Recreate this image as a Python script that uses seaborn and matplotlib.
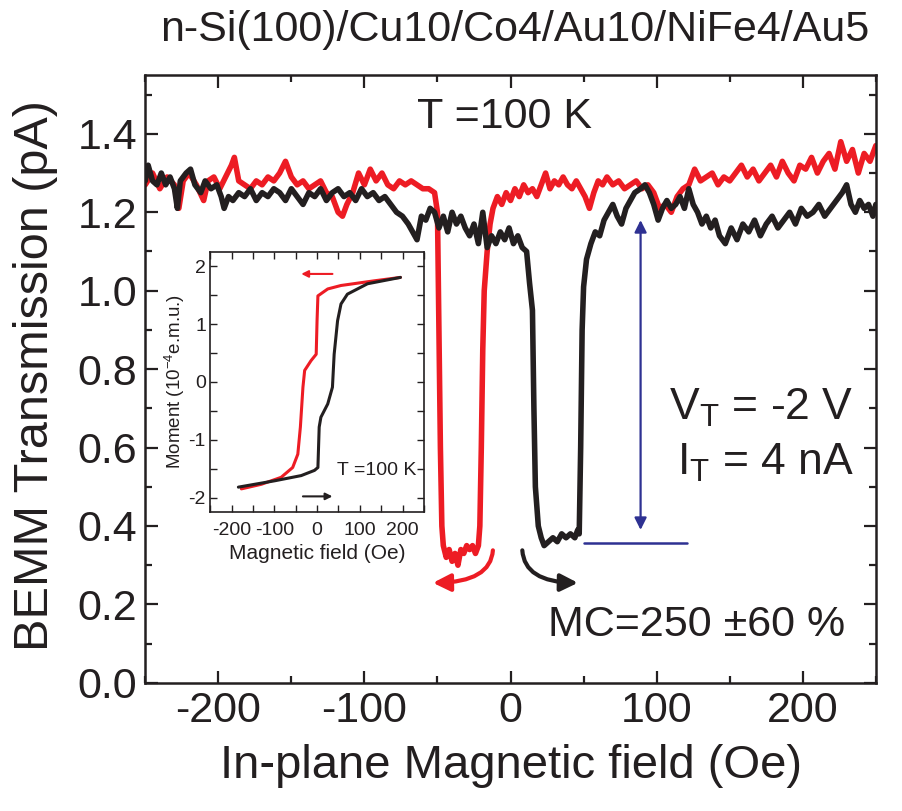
import matplotlib
matplotlib.use("Agg")
import matplotlib.pyplot as plt
import numpy as np
import pandas as pd
import seaborn as sns
from matplotlib.patches import FancyArrowPatch

sns.set_style("ticks")
plt.rcParams['font.family'] = ['Liberation Sans Narrow', 'Liberation Sans', 'DejaVu Sans']
plt.rcParams['mathtext.fontset'] = 'custom'
plt.rcParams['mathtext.rm'] = 'Liberation Sans'

RED = "#ed1c24"
BLACK = "#231f20"
BLUE = "#2e3192"

# ---- main data: BEMM transmission vs in-plane field ----
red_field = [-250, -245, -240, -235, -230, -227, -224, -220, -215, -210, -207, -203, -199, -195,
             -191, -189, -186, -182, -178, -174, -170, -166, -162, -158, -154, -150, -146, -142,
             -138, -134, -130, -126, -122, -118, -115, -112, -108, -104, -100, -96, -92, -88,
             -84, -80, -76, -72, -68, -64, -60, -56, -52, -50, -49, -48, -47, -46, -44, -42,
             -40, -38, -36, -34, -32, -30, -28, -26, -24, -22, -21, -20, -19, -18, -16, -14,
             -12, -9, -6, -3, 0, 3, 6, 9, 12, 15, 18, 21, 24, 27, 30, 33, 36, 39, 42, 45, 48,
             51, 54, 57, 60, 63, 66, 70, 74, 78, 82, 86, 90, 94, 98, 102, 106, 110, 114, 118,
             122, 126, 130, 134, 138, 142, 146, 150, 154, 158, 162, 166, 170, 174, 178, 182,
             186, 190, 194, 198, 202, 206, 210, 214, 218, 222, 226, 230, 234, 238, 242, 246, 250]
red_current = [1.27, 1.30, 1.26, 1.29, 1.27, 1.21, 1.28, 1.30, 1.27, 1.23, 1.28, 1.29, 1.26, 1.29,
               1.32, 1.34, 1.28, 1.27, 1.26, 1.28, 1.27, 1.29, 1.28, 1.30, 1.33, 1.29, 1.27, 1.28,
               1.26, 1.27, 1.28, 1.25, 1.24, 1.20, 1.19, 1.22, 1.25, 1.30, 1.27, 1.31, 1.28, 1.30,
               1.27, 1.26, 1.28, 1.27, 1.28, 1.27, 1.26, 1.26, 1.25, 1.20, 0.90, 0.60, 0.40, 0.35,
               0.32, 0.34, 0.31, 0.33, 0.30, 0.34, 0.33, 0.35, 0.34, 0.35, 0.33, 0.35, 0.40, 0.60,
               0.85, 1.00, 1.10, 1.17, 1.21, 1.24, 1.22, 1.25, 1.23, 1.26, 1.24, 1.27, 1.25, 1.26,
               1.24, 1.27, 1.30, 1.26, 1.28, 1.27, 1.29, 1.27, 1.26, 1.28, 1.26, 1.24, 1.21, 1.25,
               1.28, 1.27, 1.29, 1.27, 1.28, 1.26, 1.27, 1.28, 1.26, 1.27, 1.25, 1.21, 1.22, 1.20,
               1.24, 1.26, 1.27, 1.31, 1.28, 1.29, 1.30, 1.27, 1.29, 1.28, 1.30, 1.32, 1.29, 1.31,
               1.28, 1.30, 1.32, 1.29, 1.33, 1.30, 1.28, 1.32, 1.31, 1.34, 1.30, 1.33, 1.35, 1.31,
               1.38, 1.33, 1.36, 1.30, 1.35, 1.33, 1.37]

black_field = [-250, -248, -245, -242, -239, -236, -233, -230, -228, -226, -222, -219, -216, -212,
               -209, -205, -201, -198, -196, -193, -190, -186, -182, -178, -174, -170, -166, -162,
               -158, -154, -150, -146, -142, -138, -134, -130, -126, -122, -118, -114, -110, -106,
               -102, -98, -94, -90, -86, -82, -78, -74, -70, -67, -64, -61, -58, -55, -52, -49,
               -46, -43, -40, -37, -34, -31, -28, -25, -22, -19, -16, -13, -10, -7, -4, -1, 2, 5,
               8, 11, 13, 15, 16, 17, 19, 21, 23, 26, 29, 32, 35, 38, 41, 44, 46, 47, 48, 49, 50,
               52, 55, 58, 61, 64, 67, 70, 73, 76, 79, 82, 85, 89, 92, 95, 98, 101, 104, 107, 110,
               113, 116, 119, 122, 125, 128, 131, 134, 137, 140, 143, 147, 151, 155, 159, 163,
               167, 171, 175, 179, 183, 187, 191, 195, 199, 203, 207, 211, 215, 219, 223, 227,
               230, 233, 236, 239, 242, 245, 248, 250]
black_current = [1.28, 1.32, 1.28, 1.27, 1.30, 1.27, 1.29, 1.26, 1.21, 1.28, 1.30, 1.31, 1.27, 1.25,
                 1.28, 1.26, 1.27, 1.24, 1.21, 1.24, 1.23, 1.25, 1.24, 1.26, 1.23, 1.25, 1.24, 1.26,
                 1.25, 1.23, 1.26, 1.24, 1.22, 1.25, 1.24, 1.26, 1.23, 1.25, 1.26, 1.24, 1.25, 1.23,
                 1.26, 1.24, 1.25, 1.23, 1.24, 1.22, 1.20, 1.19, 1.17, 1.15, 1.13, 1.19, 1.18, 1.21,
                 1.20, 1.16, 1.19, 1.15, 1.20, 1.17, 1.19, 1.16, 1.14, 1.17, 1.12, 1.20, 1.11, 1.14,
                 1.12, 1.15, 1.13, 1.16, 1.12, 1.14, 1.11, 1.10, 1.02, 0.95, 0.70, 0.50, 0.40, 0.37,
                 0.35, 0.36, 0.37, 0.36, 0.38, 0.37, 0.38, 0.37, 0.39, 0.38, 0.60, 0.90, 1.01, 1.08,
                 1.12, 1.15, 1.14, 1.18, 1.20, 1.22, 1.19, 1.17, 1.21, 1.23, 1.25, 1.26, 1.27, 1.25,
                 1.22, 1.18, 1.21, 1.23, 1.21, 1.22, 1.24, 1.21, 1.26, 1.22, 1.20, 1.17, 1.19, 1.16,
                 1.18, 1.14, 1.12, 1.16, 1.13, 1.17, 1.15, 1.18, 1.14, 1.17, 1.19, 1.16, 1.18, 1.20,
                 1.17, 1.21, 1.19, 1.20, 1.22, 1.19, 1.21, 1.23, 1.25, 1.27, 1.22, 1.20, 1.23, 1.21,
                 1.22, 1.19, 1.22]

# ---- inset data: hysteresis loop ----
loop_down_field = [195, 133, 56, 25, 2, 0, -2, -14, -29, -33, -39, -45, -57, -84, -130, -177]
loop_down_moment = [1.81, 1.75, 1.67, 1.61, 1.49, 1.06, 0.48, 0.37, 0.20, -0.09, -0.78, -1.25,
                    -1.48, -1.65, -1.77, -1.85]
loop_up_field = [-184, -99, -37, -6, 2, 5, 9, 25, 36, 40, 48, 56, 71, 118, 195]
loop_up_moment = [-1.82, -1.71, -1.62, -1.53, -1.48, -0.78, -0.61, -0.38, -0.09, 0.48, 1.06,
                  1.35, 1.52, 1.70, 1.81]

main_xticks = [-200, -100, 0, 100, 200]
main_yticks = [0.0, 0.2, 0.4, 0.6, 0.8, 1.0, 1.2, 1.4]
inset_xticks = [-200, -100, 0, 100, 200]
inset_yticks = [-2, -1, 0, 1, 2]

df_red = pd.DataFrame({"H": red_field, "I": red_current})
df_black = pd.DataFrame({"H": black_field, "I": black_current})
df_down = pd.DataFrame({"H": loop_down_field, "M": loop_down_moment})
df_up = pd.DataFrame({"H": loop_up_field, "M": loop_up_moment})

fig = plt.figure(figsize=(9.02, 8.11), dpi=100)
ax = fig.add_axes([0.161, 0.158, 0.81, 0.7495])

sns.lineplot(data=df_red, x="H", y="I", ax=ax, color=RED, lw=4, sort=False, estimator=None)
sns.lineplot(data=df_black, x="H", y="I", ax=ax, color=BLACK, lw=4, sort=False, estimator=None)

ax.set_xlim(-250, 250)
ax.set_ylim(0, 1.55)
ax.set_xticks(main_xticks)
ax.set_xticks(np.arange(-250, 251, 50), minor=True)
ax.set_yticks(main_yticks)
ax.set_yticks(np.arange(0.1, 1.55, 0.2), minor=True)
ax.set_xticklabels([str(v) for v in main_xticks])
ax.set_yticklabels(["%.1f" % v for v in main_yticks])
ax.tick_params(which="both", direction="in", top=True, right=True, width=1.6, color=BLACK)
ax.tick_params(which="major", length=9, labelsize=31, pad=6, labelcolor=BLACK)
ax.tick_params(which="minor", length=5)
for s in ax.spines.values():
    s.set_linewidth(1.8)
    s.set_color(BLACK)
ax.set_xlabel("In-plane Magnetic field (Oe)", fontsize=34, color=BLACK, labelpad=9)
ax.set_ylabel("BEMM Transmission (pA)", fontsize=35, color=BLACK)
ax.yaxis.set_label_coords(-0.12, 0.505)

fig.text(0.571, 0.963, "n-Si(100)/Cu10/Co4/Au10/NiFe4/Au5", fontsize=31, color=BLACK,
         ha="center", va="center")
ax.text(-4, 1.443, "T =100 K", fontsize=31, color=BLACK, ha="center", va="center")
ax.text(235, 0.70, r"V$_\mathregular{T}$ = -2 V", fontsize=32, color=BLACK, ha="right", va="center")
ax.text(235, 0.56, r"I$_\mathregular{T}$ = 4 nA", fontsize=32, color=BLACK, ha="right", va="center")
ax.text(229, 0.148, "MC=250 \u00b160 %", fontsize=31, color=BLACK, ha="right", va="center")

# MC arrow and reference level
ax.annotate("", xy=(89, 0.39), xytext=(89, 1.18),
            arrowprops=dict(arrowstyle="<|-|>", color=BLUE, lw=1.6, mutation_scale=18,
                            shrinkA=0, shrinkB=0))
ax.plot([50, 121], [0.357, 0.357], color=BLUE, lw=1.8)

# curved sweep arrows
ax.add_patch(FancyArrowPatch((-12, 0.345), (-55, 0.255),
                             connectionstyle="angle3,angleA=90,angleB=0",
                             arrowstyle="-|>", mutation_scale=26, color=RED, lw=3))
ax.add_patch(FancyArrowPatch((8, 0.345), (48, 0.255),
                             connectionstyle="angle3,angleA=90,angleB=0",
                             arrowstyle="-|>", mutation_scale=26, color=BLACK, lw=3))

# ---- inset ----
ins = fig.add_axes([0.233, 0.3687, 0.237, 0.3206])
sns.lineplot(data=df_down, x="H", y="M", ax=ins, color=RED, lw=2.2, sort=False, estimator=None)
sns.lineplot(data=df_up, x="H", y="M", ax=ins, color=BLACK, lw=2.2, sort=False, estimator=None)
ins.set_xlim(-250, 250)
ins.set_ylim(-2.25, 2.25)
ins.set_xticks(inset_xticks)
ins.set_xticks(np.arange(-250, 251, 50), minor=True)
ins.set_yticks(inset_yticks)
ins.set_yticks(np.arange(-2, 2.1, 0.5), minor=True)
ins.set_xticklabels([str(v) for v in inset_xticks])
ins.set_yticklabels([str(v) for v in inset_yticks])
ins.tick_params(which="both", direction="in", top=True, right=True, width=1.0, color=BLACK)
ins.tick_params(which="major", length=5, labelsize=14, pad=3, labelcolor=BLACK)
ins.tick_params(axis="x", which="major", pad=7)
ins.tick_params(which="minor", length=5)
for s in ins.spines.values():
    s.set_linewidth(1.2)
    s.set_color(BLACK)
ins.set_xlabel("Magnetic field (Oe)", fontsize=15, color=BLACK, labelpad=4)
ins.set_ylabel(r"Moment (10$^\mathregular{-4}$e.m.u.)", fontsize=13.5, color=BLACK, labelpad=1)
ins.annotate("", xy=(-37, 1.87), xytext=(36, 1.87),
             arrowprops=dict(arrowstyle="-|>", color=RED, lw=1.5, mutation_scale=10,
                             shrinkA=0, shrinkB=0))
ins.annotate("", xy=(36, -1.98), xytext=(-33, -1.98),
             arrowprops=dict(arrowstyle="-|>", color=BLACK, lw=1.5, mutation_scale=10,
                             shrinkA=0, shrinkB=0))
ins.text(232, -1.53, "T =100 K", fontsize=14, color=BLACK, ha="right", va="center")

fig.savefig("out.png", dpi=100)
